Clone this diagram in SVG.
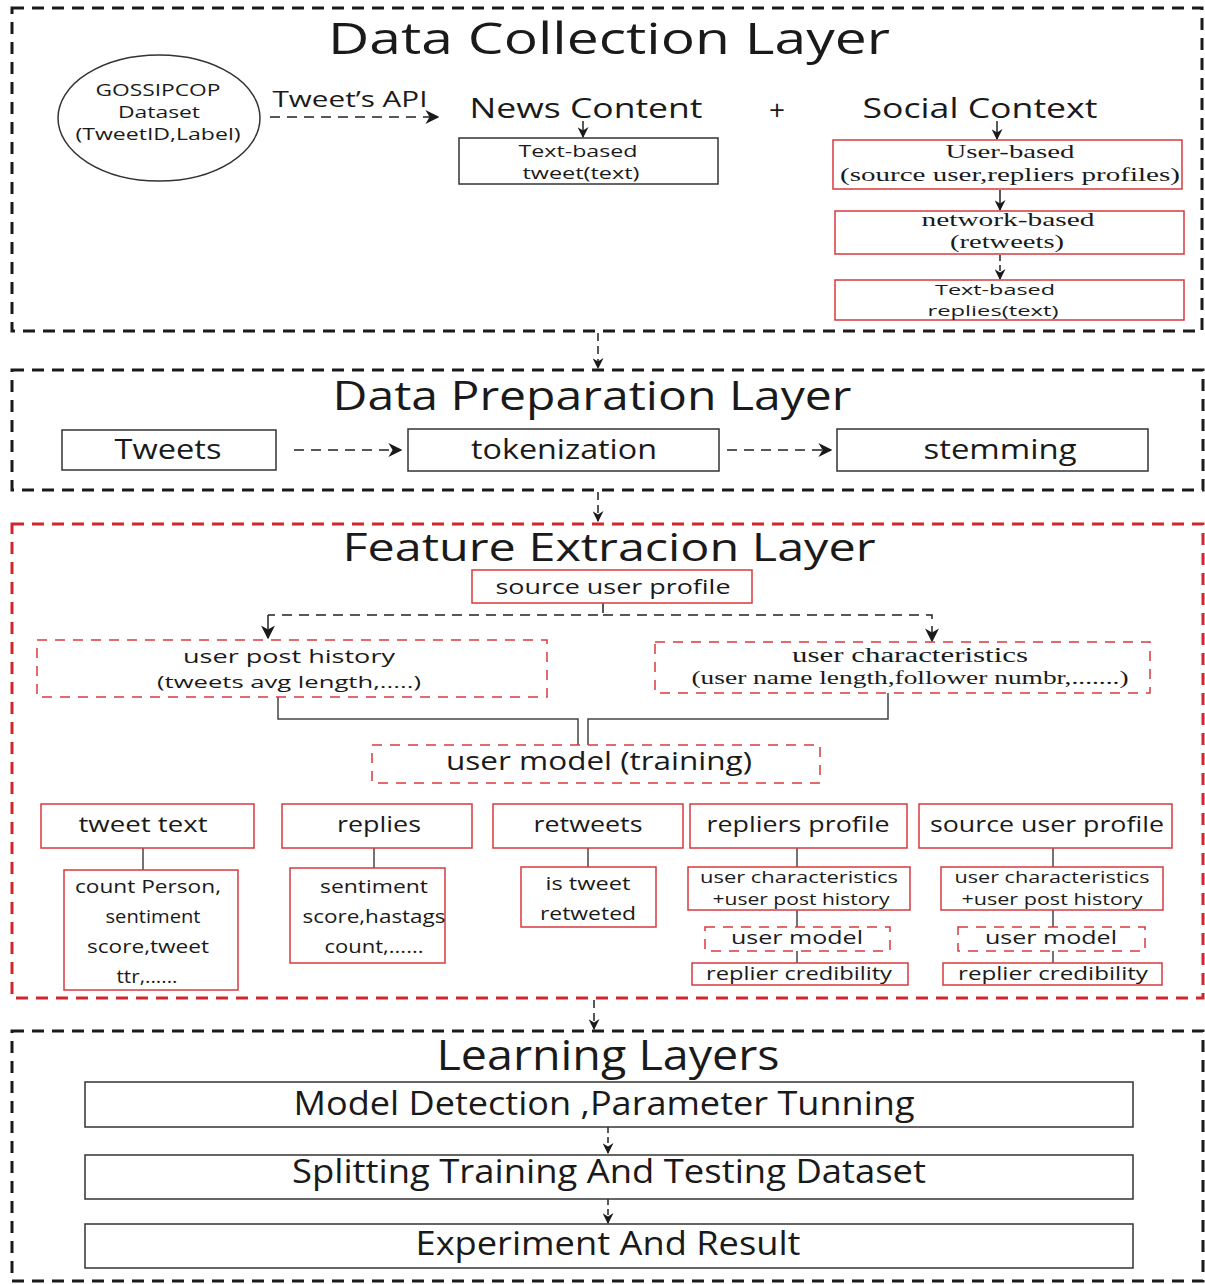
<svg xmlns="http://www.w3.org/2000/svg" width="1205" height="1284" viewBox="0 0 1205 1284">
<defs>
<marker id="ah" viewBox="0 0 10 10" refX="9" refY="5" markerWidth="11" markerHeight="11" markerUnits="userSpaceOnUse" orient="auto">
<path d="M0,0 L10,5 L0,10 L3,5 Z" fill="#1a1a1a"/>
</marker>
<marker id="ahL" viewBox="0 0 10 10" refX="9" refY="5" markerWidth="14" markerHeight="14" markerUnits="userSpaceOnUse" orient="auto">
<path d="M0,0 L10,5 L0,10 L3,5 Z" fill="#1a1a1a"/>
</marker>
</defs>
<style>
.layer{fill:none;stroke:#1a1a1a;stroke-width:3;stroke-dasharray:12 8}
.layerR{fill:none;stroke:#d0262c;stroke-width:3;stroke-dasharray:12 8}
.box{fill:#fff;stroke:#333;stroke-width:1.5}
.rbox{fill:#fff;stroke:#d9383c;stroke-width:1.5}
.rdash{fill:#fff;stroke:#d9383c;stroke-width:1.5;stroke-dasharray:10 8}
.conn{fill:none;stroke:#222;stroke-width:1.5}
.dconn{fill:none;stroke:#222;stroke-width:1.5;stroke-dasharray:10 7}
.sconn{fill:none;stroke:#444;stroke-width:1.5}
text{font-family:"Open Sans","Liberation Sans",sans-serif;fill:#1a1a1a;text-anchor:middle}
.serif{font-family:"Liberation Serif","DejaVu Serif",serif}
</style>

<!-- Layer frames -->
<g id="layer-collection">
<rect class="layer" x="12" y="8" width="1190" height="323"/>
<text x="609" y="54" font-size="44" textLength="562" lengthAdjust="spacingAndGlyphs">Data Collection Layer</text>
</g>
<g id="layer-preparation">
<rect class="layer" x="12" y="370" width="1191" height="120"/>
<text x="592" y="410" font-size="40" textLength="519" lengthAdjust="spacingAndGlyphs">Data Preparation Layer</text>
</g>
<g id="layer-feature">
<rect class="layerR" x="12" y="524" width="1191" height="474"/>
<text x="609" y="561" font-size="38" textLength="533" lengthAdjust="spacingAndGlyphs">Feature Extracion Layer</text>
</g>
<g id="layer-learning">
<rect class="layer" x="12" y="1031" width="1191" height="250"/>
<text x="608" y="1070" font-size="42" textLength="343" lengthAdjust="spacingAndGlyphs">Learning Layers</text>
</g>

<!-- Connectors -->
<g id="connectors">
<line class="dconn" x1="270" y1="117" x2="438" y2="117" marker-end="url(#ahL)"/>
<text x="350" y="107" font-size="22" textLength="155" lengthAdjust="spacingAndGlyphs">Tweet’s API</text>
<line class="conn" x1="583" y1="121" x2="583" y2="137" marker-end="url(#ah)"/>
<line class="conn" x1="997" y1="121" x2="997" y2="139" marker-end="url(#ah)"/>
<line class="conn" x1="1000" y1="190" x2="1000" y2="210" marker-end="url(#ah)"/>
<line class="dconn" style="stroke-dasharray:6 4" x1="1000" y1="255" x2="1000" y2="279" marker-end="url(#ah)"/>
<line class="dconn" style="stroke-dasharray:8 5" x1="598" y1="333" x2="598" y2="368" marker-end="url(#ah)"/>
<line class="dconn" x1="294" y1="450" x2="401" y2="450" marker-end="url(#ahL)"/>
<line class="dconn" x1="727" y1="450" x2="831" y2="450" marker-end="url(#ahL)"/>
<line class="dconn" style="stroke-dasharray:8 5" x1="598" y1="492" x2="598" y2="521" marker-end="url(#ah)"/>
<path class="dconn" d="M603,603 V615 H268"/>
<line class="conn" x1="268" y1="615" x2="268" y2="638" marker-end="url(#ahL)"/>
<path class="dconn" d="M603,615 H932 V641" marker-end="url(#ahL)"/>
<path class="sconn" d="M278,697 V719 H578 V745"/>
<path class="sconn" d="M888,693 V719 H588 V745"/>
<line class="sconn" x1="143" y1="848" x2="143" y2="870"/>
<line class="sconn" x1="374" y1="848" x2="374" y2="868"/>
<line class="sconn" x1="588" y1="848" x2="588" y2="867"/>
<line class="sconn" x1="797" y1="848" x2="797" y2="867"/>
<line class="sconn" x1="797" y1="910" x2="797" y2="927"/>
<line class="sconn" x1="797" y1="951" x2="797" y2="963"/>
<line class="sconn" x1="1053" y1="848" x2="1053" y2="867"/>
<line class="sconn" x1="1053" y1="910" x2="1053" y2="927"/>
<line class="sconn" x1="1053" y1="951" x2="1053" y2="963"/>
<line class="dconn" style="stroke-dasharray:8 5" x1="594" y1="1000" x2="594" y2="1029" marker-end="url(#ah)"/>
<line class="dconn" style="stroke-dasharray:6 4" x1="608" y1="1127" x2="608" y2="1153" marker-end="url(#ah)"/>
<line class="dconn" style="stroke-dasharray:6 4" x1="608" y1="1199" x2="608" y2="1223" marker-end="url(#ah)"/>
</g>

<!-- Data collection nodes -->
<g id="gossipcop">
<ellipse cx="159" cy="118" rx="101" ry="63" fill="#fff" stroke="#333" stroke-width="1.5"/>
<text x="158" y="96" font-size="16" textLength="125" lengthAdjust="spacingAndGlyphs">GOSSIPCOP</text>
<text x="159" y="118" font-size="16" textLength="82" lengthAdjust="spacingAndGlyphs">Dataset</text>
<text x="158" y="140" font-size="16" textLength="165" lengthAdjust="spacingAndGlyphs">(TweetID,Label)</text>
</g>
<g id="news-content">
<text x="586" y="118" font-size="28" textLength="233" lengthAdjust="spacingAndGlyphs">News Content</text>
</g>
<g id="plus">
<text x="777" y="120" font-size="28">+</text>
</g>
<g id="social-context">
<text x="980" y="118" font-size="28" textLength="235" lengthAdjust="spacingAndGlyphs">Social Context</text>
</g>
<g id="text-based-tweet">
<rect class="box" x="459" y="138" width="259" height="46"/>
<text x="578" y="157" font-size="16" textLength="119" lengthAdjust="spacingAndGlyphs">Text-based</text>
<text x="581" y="179" font-size="16" textLength="117" lengthAdjust="spacingAndGlyphs">tweet(text)</text>
</g>
<g id="user-based">
<rect class="rbox" x="833" y="140" width="349" height="49"/>
<text class="serif" x="1010" y="158" font-size="19" textLength="129" lengthAdjust="spacingAndGlyphs">User-based</text>
<text class="serif" x="1010" y="181" font-size="19" textLength="340" lengthAdjust="spacingAndGlyphs">(source user,repliers profiles)</text>
</g>
<g id="network-based">
<rect class="rbox" x="835" y="211" width="349" height="43"/>
<text class="serif" x="1008" y="226" font-size="19" textLength="173" lengthAdjust="spacingAndGlyphs">network-based</text>
<text class="serif" x="1007" y="248" font-size="19" textLength="114" lengthAdjust="spacingAndGlyphs">(retweets)</text>
</g>
<g id="text-based-replies">
<rect class="rbox" x="835" y="280" width="349" height="40"/>
<text x="995" y="295" font-size="15" textLength="120" lengthAdjust="spacingAndGlyphs">Text-based</text>
<text x="993" y="316" font-size="15" textLength="131" lengthAdjust="spacingAndGlyphs">replies(text)</text>
</g>

<!-- Data preparation nodes -->
<g id="tweets">
<rect class="box" x="62" y="430" width="214" height="40"/>
<text x="168" y="459" font-size="28" textLength="107" lengthAdjust="spacingAndGlyphs">Tweets</text>
</g>
<g id="tokenization">
<rect class="box" x="408" y="429" width="311" height="42"/>
<text x="564" y="459" font-size="28" textLength="186" lengthAdjust="spacingAndGlyphs">tokenization</text>
</g>
<g id="stemming">
<rect class="box" x="837" y="429" width="311" height="42"/>
<text x="1000" y="459" font-size="28" textLength="153" lengthAdjust="spacingAndGlyphs">stemming</text>
</g>

<!-- Feature extraction nodes -->
<g id="source-user-profile-top">
<rect class="rbox" x="472" y="570" width="280" height="33"/>
<text x="613" y="594" font-size="20" textLength="235" lengthAdjust="spacingAndGlyphs">source user profile</text>
</g>
<g id="user-post-history">
<rect class="rdash" x="37" y="640" width="510" height="57"/>
<text x="289" y="663" font-size="19" textLength="212" lengthAdjust="spacingAndGlyphs">user post history</text>
<text x="289" y="688" font-size="17" textLength="264" lengthAdjust="spacingAndGlyphs">(tweets avg length,.....)</text>
</g>
<g id="user-characteristics">
<rect class="rdash" x="655" y="642" width="495" height="51"/>
<text class="serif" x="910" y="662" font-size="20" textLength="236" lengthAdjust="spacingAndGlyphs">user characteristics</text>
<text class="serif" x="910" y="684" font-size="18" textLength="437" lengthAdjust="spacingAndGlyphs">(user name length,follower numbr,.......)</text>
</g>
<g id="user-model-training">
<rect class="rdash" x="372" y="745" width="448" height="38"/>
<text x="599" y="770" font-size="25" textLength="306" lengthAdjust="spacingAndGlyphs">user model (training)</text>
</g>
<g id="tweet-text">
<rect class="rbox" x="41" y="804" width="213" height="44"/>
<text x="143" y="832" font-size="22" textLength="129" lengthAdjust="spacingAndGlyphs">tweet text</text>
</g>
<g id="tweet-text-features">
<rect class="rbox" x="64" y="870" width="174" height="120"/>
<text x="148" y="893" font-size="19" textLength="146" lengthAdjust="spacingAndGlyphs">count Person,</text>
<text x="153" y="923" font-size="19" textLength="95" lengthAdjust="spacingAndGlyphs">sentiment</text>
<text x="148" y="953" font-size="19" textLength="122" lengthAdjust="spacingAndGlyphs">score,tweet</text>
<text x="147" y="983" font-size="19" textLength="61" lengthAdjust="spacingAndGlyphs">ttr,......</text>
</g>
<g id="replies">
<rect class="rbox" x="282" y="804" width="190" height="44"/>
<text x="379" y="832" font-size="22" textLength="84" lengthAdjust="spacingAndGlyphs">replies</text>
</g>
<g id="replies-features">
<rect class="rbox" x="290" y="868" width="155" height="95"/>
<text x="374" y="893" font-size="19" textLength="108" lengthAdjust="spacingAndGlyphs">sentiment</text>
<text x="374" y="923" font-size="19" textLength="143" lengthAdjust="spacingAndGlyphs">score,hastags</text>
<text x="374" y="953" font-size="19" textLength="99" lengthAdjust="spacingAndGlyphs">count,......</text>
</g>
<g id="retweets">
<rect class="rbox" x="493" y="804" width="190" height="44"/>
<text x="588" y="832" font-size="22" textLength="109" lengthAdjust="spacingAndGlyphs">retweets</text>
</g>
<g id="retweets-features">
<rect class="rbox" x="521" y="867" width="135" height="60"/>
<text x="588" y="890" font-size="19" textLength="85" lengthAdjust="spacingAndGlyphs">is tweet</text>
<text x="588" y="920" font-size="19" textLength="96" lengthAdjust="spacingAndGlyphs">retweted</text>
</g>
<g id="repliers-profile">
<rect class="rbox" x="690" y="804" width="217" height="44"/>
<text x="798" y="832" font-size="22" textLength="183" lengthAdjust="spacingAndGlyphs">repliers profile</text>
</g>
<g id="repliers-char-history">
<rect class="rbox" x="688" y="867" width="222" height="43"/>
<text x="799" y="883" font-size="16" textLength="198" lengthAdjust="spacingAndGlyphs">user characteristics</text>
<text x="801" y="905" font-size="16" textLength="177" lengthAdjust="spacingAndGlyphs">+user post history</text>
</g>
<g id="repliers-user-model">
<rect class="rdash" x="705" y="927" width="185" height="24"/>
<text x="797" y="944" font-size="19" textLength="132" lengthAdjust="spacingAndGlyphs">user model</text>
</g>
<g id="repliers-credibility">
<rect class="rbox" x="692" y="963" width="216" height="22"/>
<text x="799" y="980" font-size="18" textLength="186" lengthAdjust="spacingAndGlyphs">replier credibility</text>
</g>
<g id="source-user-profile">
<rect class="rbox" x="919" y="804" width="253" height="44"/>
<text x="1047" y="832" font-size="22" textLength="234" lengthAdjust="spacingAndGlyphs">source user profile</text>
</g>
<g id="source-char-history">
<rect class="rbox" x="941" y="867" width="222" height="43"/>
<text x="1052" y="883" font-size="16" textLength="195" lengthAdjust="spacingAndGlyphs">user characteristics</text>
<text x="1052" y="905" font-size="16" textLength="181" lengthAdjust="spacingAndGlyphs">+user post history</text>
</g>
<g id="source-user-model">
<rect class="rdash" x="958" y="927" width="187" height="24"/>
<text x="1051" y="944" font-size="19" textLength="132" lengthAdjust="spacingAndGlyphs">user model</text>
</g>
<g id="source-credibility">
<rect class="rbox" x="943" y="963" width="219" height="22"/>
<text x="1053" y="980" font-size="18" textLength="190" lengthAdjust="spacingAndGlyphs">replier credibility</text>
</g>

<!-- Learning nodes -->
<g id="model-detection">
<rect class="box" x="85" y="1082" width="1048" height="45" stroke-width="2"/>
<text x="604" y="1115" font-size="32" textLength="621" lengthAdjust="spacingAndGlyphs">Model Detection ,Parameter Tunning</text>
</g>
<g id="splitting">
<rect class="box" x="85" y="1155" width="1048" height="44" stroke-width="2"/>
<text x="609" y="1183" font-size="32" textLength="634" lengthAdjust="spacingAndGlyphs">Splitting Training And Testing Dataset</text>
</g>
<g id="experiment">
<rect class="box" x="85" y="1224" width="1048" height="44" stroke-width="2"/>
<text x="608" y="1255" font-size="32" textLength="385" lengthAdjust="spacingAndGlyphs">Experiment And Result</text>
</g>
</svg>
